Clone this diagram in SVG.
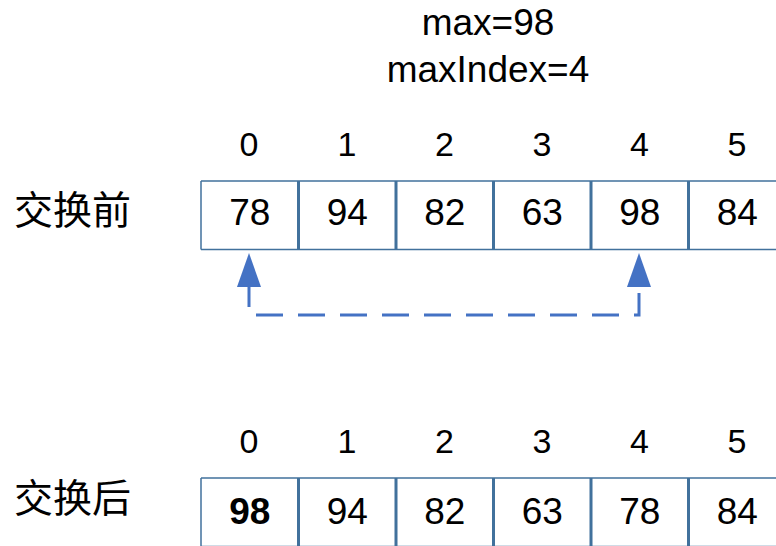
<svg xmlns="http://www.w3.org/2000/svg" width="776" height="546" viewBox="0 0 776 546">
<defs>
<style>
text{font-family:"Liberation Sans",Arial,sans-serif;fill:#000;text-anchor:middle}
.t{font-size:37px}
.idx{font-size:34px}
.val{font-size:37px}
.b{font-weight:bold}
.cn{font-family:"Noto Sans CJK SC","Noto Sans",sans-serif;font-size:39px;text-anchor:start}
.h{stroke:#41719C;stroke-width:1.5;fill:none}
.v{stroke:#41719C;stroke-width:3;fill:none}
.conn{stroke:#4472C4;stroke-width:3;fill:none;stroke-dasharray:27 15;stroke-dashoffset:6}
</style>
<marker id="ah" viewBox="0 0 34 24" refX="1" refY="12" markerWidth="34" markerHeight="24" markerUnits="userSpaceOnUse" orient="auto-start-reverse">
<path d="M0 0 L34 12 L0 24 Z" fill="#4472C4"/>
</marker>
</defs>
<g id="header">
<text class="t" x="488" y="35">max=98</text>
<text class="t" x="488" y="82">maxIndex=4</text>
</g>
<g id="before">
<text class="cn" x="14" y="224">交换前</text>
<g id="before-index">
<text class="idx" x="249" y="156">0</text>
<text class="idx" x="347" y="156">1</text>
<text class="idx" x="444.5" y="156">2</text>
<text class="idx" x="542" y="156">3</text>
<text class="idx" x="639.5" y="156">4</text>
<text class="idx" x="737" y="156">5</text>
</g>
<g id="before-cells">
<path class="h" d="M201 181 H780 M201 249.5 H780"/>
<path class="h" d="M201 181 V249.5"/>
<path class="v" d="M298.5 181 V249.5 M396 181 V249.5 M493.5 181 V249.5 M591 181 V249.5 M688.5 181 V249.5"/>
<text class="val" x="249.75" y="225">78</text>
<text class="val" x="347.25" y="225">94</text>
<text class="val" x="444.75" y="225">82</text>
<text class="val" x="542.25" y="225">63</text>
<text class="val" x="639.75" y="225">98</text>
<text class="val" x="737.25" y="225">84</text>
</g>
</g>
<g id="connectors">
<path class="conn" d="M249 286 V315 H639 V286" marker-start="url(#ah)" marker-end="url(#ah)"/>
</g>
<g id="after">
<text class="cn" x="14" y="512">交换后</text>
<g id="after-index">
<text class="idx" x="249" y="453">0</text>
<text class="idx" x="347" y="453">1</text>
<text class="idx" x="444.5" y="453">2</text>
<text class="idx" x="542" y="453">3</text>
<text class="idx" x="639.5" y="453">4</text>
<text class="idx" x="737" y="453">5</text>
</g>
<g id="after-cells">
<path class="h" d="M201 478 H780 M201 546.5 H780"/>
<path class="h" d="M201 478 V550"/>
<path class="v" d="M298.5 478 V550 M396 478 V550 M493.5 478 V550 M591 478 V550 M688.5 478 V550"/>
<text class="val b" x="249.75" y="524">98</text>
<text class="val" x="347.25" y="524">94</text>
<text class="val" x="444.75" y="524">82</text>
<text class="val" x="542.25" y="524">63</text>
<text class="val" x="639.75" y="524">78</text>
<text class="val" x="737.25" y="524">84</text>
</g>
</g>
</svg>
